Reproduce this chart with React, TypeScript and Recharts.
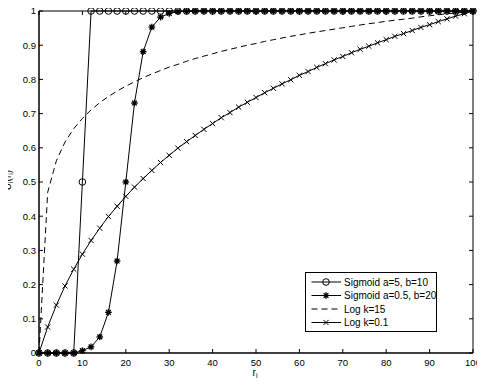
import React from 'react';
import { LineChart, Line, XAxis, YAxis, ReferenceArea, Legend } from 'recharts';

const rValues = [0, 2, 4, 6, 8, 10, 12, 14, 16, 18, 20, 22, 24, 26, 28, 30, 32, 34, 36, 38, 40, 42, 44, 46, 48, 50, 52, 54, 56, 58, 60, 62, 64, 66, 68, 70, 72, 74, 76, 78, 80, 82, 84, 86, 88, 90, 92, 94, 96, 98, 100];

const sigmoidA5B10 = [0, 0, 0, 0, 0, 0.5, 1, 1, 1, 1, 1, 1, 1, 1, 1, 1, 1, 1, 1, 1, 1, 1, 1, 1, 1, 1, 1, 1, 1, 1, 1, 1, 1, 1, 1, 1, 1, 1, 1, 1, 1, 1, 1, 1, 1, 1, 1, 1, 1, 1, 1];

const sigmoidA05B20 = [0, 0, 0, 0, 0, 0.007, 0.018, 0.047, 0.119, 0.269, 0.5, 0.731, 0.881, 0.953, 0.982, 0.993, 0.998, 0.999, 1, 1, 1, 1, 1, 1, 1, 1, 1, 1, 1, 1, 1, 1, 1, 1, 1, 1, 1, 1, 1, 1, 1, 1, 1, 1, 1, 1, 1, 1, 1, 1, 1];

const logK15 = [0, 0.470, 0.562, 0.617, 0.656, 0.686, 0.711, 0.732, 0.750, 0.766, 0.780, 0.793, 0.805, 0.816, 0.826, 0.836, 0.844, 0.853, 0.861, 0.868, 0.875, 0.882, 0.888, 0.894, 0.900, 0.905, 0.911, 0.916, 0.921, 0.926, 0.930, 0.935, 0.939, 0.943, 0.947, 0.951, 0.955, 0.959, 0.963, 0.966, 0.970, 0.973, 0.976, 0.979, 0.983, 0.986, 0.989, 0.992, 0.994, 0.997, 1];

const logK01 = [0, 0.076, 0.140, 0.196, 0.245, 0.289, 0.329, 0.365, 0.399, 0.429, 0.458, 0.485, 0.510, 0.534, 0.557, 0.578, 0.599, 0.618, 0.636, 0.654, 0.671, 0.688, 0.703, 0.719, 0.733, 0.747, 0.761, 0.774, 0.787, 0.799, 0.812, 0.823, 0.835, 0.846, 0.857, 0.867, 0.878, 0.888, 0.897, 0.907, 0.916, 0.926, 0.934, 0.943, 0.952, 0.960, 0.969, 0.977, 0.985, 0.992, 1];

const xTicks = [0, 10, 20, 30, 40, 50, 60, 70, 80, 90, 100];
const yTicks = [0, 0.1, 0.2, 0.3, 0.4, 0.5, 0.6, 0.7, 0.8, 0.9, 1];

const seriesNames = ['Sigmoid a=5, b=10', 'Sigmoid a=0.5, b=20', 'Log k=15', 'Log k=0.1'];
const seriesKeys = ['s1', 's2', 'l15', 'l01'];

const data = rValues.map((r, i) => ({
  r,
  s1: sigmoidA5B10[i],
  s2: sigmoidA05B20[i],
  l15: logK15[i],
  l01: logK01[i],
}));

const W = 485;
const H = 386;
const PLOT_LEFT = 39;
const PLOT_RIGHT = 473;
const PLOT_TOP = 11;
const PLOT_BOTTOM = 353;
const TICK_LEN = 4;
const FONT = '"Liberation Sans", Arial, Helvetica, sans-serif';
const TICK_FS = 9.5;

const CircleMark = ({ cx, cy }: { cx: number; cy: number }) => (
  <circle cx={cx} cy={cy} r={3.3} fill="none" stroke="#000" strokeWidth={1} />
);
const StarMark = ({ cx, cy }: { cx: number; cy: number }) => {
  const s = 3.3;
  const d = s * 0.72;
  return (
    <g stroke="#000" strokeWidth={1.3}>
      <circle cx={cx} cy={cy} r={1.9} fill="#000" stroke="none" />
      <line x1={cx - s} y1={cy} x2={cx + s} y2={cy} />
      <line x1={cx} y1={cy - s} x2={cx} y2={cy + s} />
      <line x1={cx - d} y1={cy - d} x2={cx + d} y2={cy + d} />
      <line x1={cx - d} y1={cy + d} x2={cx + d} y2={cy - d} />
    </g>
  );
};
const XMark = ({ cx, cy }: { cx: number; cy: number }) => {
  const s = 2.6;
  return (
    <g stroke="#000" strokeWidth={1}>
      <line x1={cx - s} y1={cy - s} x2={cx + s} y2={cy + s} />
      <line x1={cx - s} y1={cy + s} x2={cx + s} y2={cy - s} />
    </g>
  );
};

const dotCircle = (p: any) => <CircleMark key={`c-${p.index}`} cx={p.cx} cy={p.cy} />;
const dotStar = (p: any) => <StarMark key={`s-${p.index}`} cx={p.cx} cy={p.cy} />;
const dotX = (p: any) => <XMark key={`x-${p.index}`} cx={p.cx} cy={p.cy} />;

const XTick = (props: any) => {
  const { x, payload } = props;
  return (
    <g>
      <line x1={x} x2={x} y1={PLOT_BOTTOM} y2={PLOT_BOTTOM - TICK_LEN} stroke="#000" />
      <line x1={x} x2={x} y1={PLOT_TOP} y2={PLOT_TOP + TICK_LEN} stroke="#000" />
      <text x={x} y={PLOT_BOTTOM + 12.6} textAnchor="middle" fontSize={TICK_FS} fontFamily={FONT} fill="#000">
        {payload.value}
      </text>
    </g>
  );
};

const YTick = (props: any) => {
  const { y, payload } = props;
  return (
    <g>
      <line x1={PLOT_LEFT} x2={PLOT_LEFT + TICK_LEN} y1={y} y2={y} stroke="#000" />
      <line x1={PLOT_RIGHT} x2={PLOT_RIGHT - TICK_LEN} y1={y} y2={y} stroke="#000" />
      <text x={PLOT_LEFT - 3} y={y + 3.4} textAnchor="end" fontSize={TICK_FS} fontFamily={FONT} fill="#000">
        {payload.value}
      </text>
    </g>
  );
};

const YLabel = () => (
  <text
    transform={`translate(10.5, 180) rotate(-90)`}
    textAnchor="middle"
    fontSize={10}
    fontFamily={FONT}
    fill="#000"
  >
    U
    <tspan fontSize={7} dy={2}>i</tspan>
    <tspan dy={-2}>(r</tspan>
    <tspan fontSize={7} dy={2}>i</tspan>
    <tspan dy={-2}>)</tspan>
  </text>
);

const XLabel = () => (
  <text x={255} y={376} textAnchor="middle" fontSize={10} fontFamily={FONT} fill="#000">
    r
    <tspan fontSize={7} dy={2}>i</tspan>
  </text>
);

const LegendBox = () => {
  const markers = [
    (cx: number, cy: number) => <CircleMark cx={cx} cy={cy} />,
    (cx: number, cy: number) => <StarMark cx={cx} cy={cy} />,
    null,
    (cx: number, cy: number) => <XMark cx={cx} cy={cy} />,
  ];
  const rowY = [10, 23.5, 37, 50.5];
  return (
    <svg width={133} height={61} style={{ display: 'block' }}>
      <rect x={0.5} y={0.5} width={131} height={59} fill="#fff" stroke="#000" strokeWidth={1} />
      {seriesNames.map((name, i) => (
        <g key={seriesKeys[i]}>
          <line
            x1={6.5}
            x2={36}
            y1={rowY[i]}
            y2={rowY[i]}
            stroke="#000"
            strokeWidth={1}
            strokeDasharray={i === 2 ? '6 4' : undefined}
          />
          {markers[i] ? markers[i]!(21, rowY[i]) : null}
          <text x={39} y={rowY[i] + 3.5} fontSize={10} fontFamily={FONT} fill="#000">
            {name}
          </text>
        </g>
      ))}
    </svg>
  );
};

export default function App() {
  return (
    <div style={{ marginLeft: -8, marginTop: -8, width: W, height: H, background: '#fff' }}>
      <LineChart width={W} height={H} data={data} margin={{ top: PLOT_TOP, right: W - PLOT_RIGHT, left: 0, bottom: 0 }}>
        <XAxis
          dataKey="r"
          type="number"
          domain={[0, 100]}
          ticks={xTicks}
          interval={0}
          height={H - PLOT_BOTTOM}
          tickLine={false}
          tickSize={0}
          tick={XTick}
          axisLine={{ stroke: '#000' }}
          label={XLabel}
        />
        <YAxis
          type="number"
          domain={[0, 1]}
          ticks={yTicks}
          interval={0}
          width={PLOT_LEFT}
          tickLine={false}
          tickSize={0}
          tick={YTick}
          axisLine={{ stroke: '#000' }}
          label={YLabel}
        />
        <ReferenceArea x1={0} x2={100} y1={0} y2={1} fill="none" fillOpacity={0} stroke="#000" strokeWidth={1} ifOverflow="visible" />
        <Line dataKey="s1" name={seriesNames[0]} type="linear" stroke="#000" strokeWidth={1} dot={dotCircle} activeDot={false} isAnimationActive={false} />
        <Line dataKey="s2" name={seriesNames[1]} type="linear" stroke="#000" strokeWidth={1} dot={dotStar} activeDot={false} isAnimationActive={false} />
        <Line dataKey="l15" name={seriesNames[2]} type="linear" stroke="#000" strokeWidth={1} strokeDasharray="6 4" dot={false} activeDot={false} isAnimationActive={false} />
        <Line dataKey="l01" name={seriesNames[3]} type="linear" stroke="#000" strokeWidth={1} dot={dotX} activeDot={false} isAnimationActive={false} />
        <Legend
          layout="horizontal"
          verticalAlign="middle"
          align="center"
          content={LegendBox}
          wrapperStyle={{ position: 'absolute', left: 305, top: 272, width: 133, height: 61 }}
        />
      </LineChart>
    </div>
  );
}
